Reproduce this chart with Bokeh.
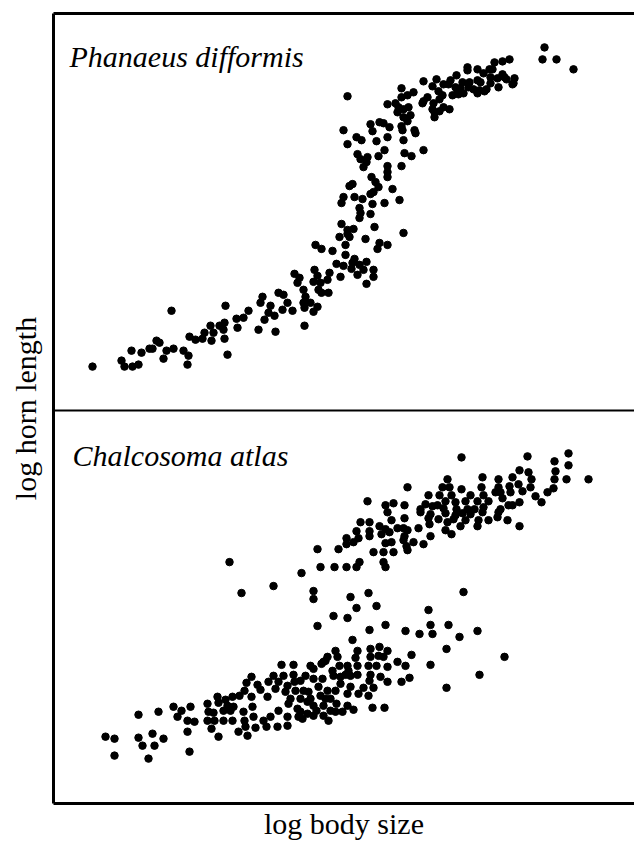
from bokeh.plotting import figure
from bokeh.models import Range1d, LinearAxis, Label, Span, FixedTicker
from bokeh.embed import file_html
from bokeh.resources import INLINE

# ---- data (arbitrary log units) ----
# Phanaeus difformis: log body size, log horn length
phanaeus_size = [39, 68, 71, 79, 85, 78, 88, 96, 103, 106, 99, 110, 113, 120, 118, 130, 135, 134, 136, 142,
                 149, 151, 157, 158, 160, 166, 171, 170, 171, 172, 174, 183, 184, 190, 195, 205, 209, 207, 211, 215,
                 217, 221, 222, 225,
                 294, 290, 303, 308, 323, 294, 326, 317, 319, 325, 304, 307, 314, 310, 313, 318, 322, 299, 296, 325,
                 320, 317, 339, 290, 288, 301, 309, 331, 346, 319, 306, 307, 306, 317, 288, 294, 300, 294, 296, 321,
                 350, 286, 312, 292, 326, 324, 334, 262, 268, 279, 292, 301, 299, 306, 298, 313, 283, 290, 310, 320,
                 304, 320, 287, 313, 241, 246, 244, 261, 264, 260, 267, 265, 276, 274, 275, 268, 250, 252, 250, 251,
                 230, 234, 229, 257, 264, 260, 251, 239,
                 491, 489, 503, 520, 456, 449, 441, 436, 439, 414, 414, 424, 430, 403, 449, 451, 453, 461, 460, 437,
                 444, 383, 370, 397, 395, 409, 416, 424, 427, 437, 445, 459, 390, 379, 402, 407, 404, 410, 415, 420,
                 426, 431, 424, 433, 399, 405, 348, 360, 354, 348, 374, 370, 369, 385, 389, 386, 380, 379, 381, 390,
                 396, 386, 381, 334, 342, 345, 344, 350, 355, 357, 350, 354, 330, 336, 348, 349, 361, 362, 334, 350,
                 331, 351, 358, 370, 334, 334, 334, 348]
phanaeus_horn = [44, 50, 44, 44, 46, 60, 58, 62, 70, 68, 62, 52, 60, 62, 100, 60, 55, 46, 74, 71,
                 72, 78, 85, 70, 78, 85, 88, 81, 72, 105, 56, 92, 83, 93, 100, 81, 114, 108, 91, 98,
                 105, 95, 79, 118,
                 315, 281, 274, 271, 270, 267, 289, 287, 280, 255, 257, 252, 254, 244, 249, 234, 229, 227, 225, 224,
                 219, 217, 222, 214, 208, 214, 212, 208, 211, 207, 203, 198, 193, 197, 187, 181, 182, 177, 174, 184,
                 178, 174, 172, 166, 168, 162, 166, 166, 162, 160, 156, 152, 148, 146, 142, 149, 147, 145, 141, 141,
                 136, 134, 134, 127, 137, 133, 128, 141, 135, 129, 128, 121, 138, 131, 118, 118, 121, 114, 108, 103,
                 116, 108, 101, 108, 104, 99, 85, 100,
                 364, 352, 352, 342, 352, 350, 349, 342, 342, 344, 341, 342, 338, 336, 337, 334, 332, 333, 328, 334,
                 333, 332, 330, 331, 327, 329, 329, 331, 329, 328, 324, 327, 327, 325, 324, 323, 319, 318, 324, 322,
                 321, 320, 318, 322, 316, 317, 323, 319, 316, 314, 314, 310, 308, 320, 316, 312, 308, 302, 299, 304,
                 302, 300, 294, 307, 308, 304, 299, 302, 304, 296, 294, 290, 288, 284, 285, 281, 281, 278, 274, 271,
                 261, 258, 255, 261, 245, 239, 234, 245]

# Chalcosoma atlas: log body size, log horn length
chalcosoma_size = [52, 61, 61, 85, 85, 89, 99, 101, 110, 95, 105, 120, 128, 124, 137, 134, 141, 134, 136, 154,
                   155, 154, 158, 160, 161, 164, 165, 165, 170, 172, 174, 170, 177, 179, 180, 179, 185, 186, 191, 193,
                   198, 190, 191, 192, 194, 198, 199, 200, 202, 204, 207, 210, 213, 214, 215, 217, 220, 222, 225, 224,
                   225, 228, 230, 234, 232, 235, 234, 234, 240, 240, 241, 242, 244, 245,
                   248, 267, 281, 293, 303, 306, 330, 332, 260, 260, 297, 315, 303, 323, 280, 294, 264, 316, 332, 299,
                   410, 375, 377, 379, 395, 352, 366, 424, 406, 393, 451, 358, 344, 352, 377, 426, 393, 356, 348, 334,
                   326, 334, 317, 325, 330, 317, 304, 302, 282, 284, 274, 270, 334, 315, 323, 304, 294, 286, 327, 317,
                   316, 304, 297, 292, 287, 279, 280, 320, 310, 305, 315, 297, 294, 319, 331, 300, 294, 289, 282, 257,
                   260, 252, 260, 269, 250, 255, 247, 254, 260, 247, 254, 260, 270, 277, 282, 274, 267, 277, 270,
                   247, 265, 272, 257, 283, 263, 237, 249, 275, 272, 268, 287, 295,
                   176, 188, 220, 314, 332, 340, 334, 338, 307, 316, 326, 332, 344, 303, 316, 328, 336, 316, 293, 305,
                   300, 293, 332, 338, 264, 285, 320, 330, 340,
                   408, 474, 515, 501, 515, 502, 501, 513, 535, 466, 475, 478, 459, 429, 445, 456, 465, 469, 477, 394,
                   396, 389, 408, 428, 445, 447, 354, 500, 494, 482, 488, 457, 375, 386, 398, 417, 424, 430, 435, 442,
                   449, 455, 459, 466, 392, 402, 412, 372, 379, 384, 351, 367, 367, 390, 403, 414, 421, 430, 447, 445,
                   429, 377, 392, 402, 409, 417, 351, 375, 385, 394, 400, 412, 425, 435, 444, 454, 376, 407, 424, 466,
                   350, 354, 365, 392, 398, 377, 351, 350, 353, 354, 360, 370]
chalcosoma_horn = [67, 65, 48, 89, 66, 58, 70, 58, 65, 45, 92, 97, 93, 87, 97, 83, 82, 72, 52, 100,
                   92, 83, 75, 91, 83, 107, 101, 67, 93, 104, 98, 83, 93, 107, 97, 83, 72, 108, 113, 121,
                   127, 92, 83, 77, 68, 107, 97, 87, 76, 119, 114, 83, 77, 107, 122, 87, 128, 115, 122, 77,
                   93, 139, 128, 118, 112, 100, 87, 78, 139, 129, 122, 113, 95, 87,
                   231, 237, 237, 237, 237, 242, 242, 237, 213, 205, 207, 211, 196, 198, 188, 186, 178, 174, 179, 164,
                   212, 194, 179, 170, 179, 173, 170, 173, 167, 155, 147, 149, 142, 138, 139, 129, 116, 126, 122, 122,
                   157, 153, 155, 148, 147, 147, 153, 146, 153, 147, 147, 142, 137, 138, 138, 138, 138, 138, 127, 129,
                   123, 129, 128, 129, 127, 133, 128, 116, 116, 110, 108, 117, 110, 96, 96, 94, 98, 92, 92, 138,
                   135, 128, 125, 125, 113, 112, 105, 102, 98, 92, 90, 88, 98, 105, 113, 113, 108, 93, 88,
                   123, 117, 105, 105, 100, 93, 105, 85, 83, 143, 140, 120, 133,
                   242, 211, 218, 303, 299, 301, 292, 284, 282, 282, 278, 275, 276, 273, 273, 270, 272, 268, 266, 266,
                   262, 260, 261, 262, 255, 255, 252, 252, 252,
                   347, 348, 351, 343, 339, 333, 325, 325, 325, 334, 332, 325, 327, 327, 325, 318, 320, 313, 317, 325,
                   317, 317, 315, 317, 317, 312, 317, 316, 312, 308, 302, 312, 309, 309, 309, 309, 303, 309, 303, 312,
                   306, 299, 299, 302, 303, 302, 303, 300, 298, 299, 299, 295, 292, 296, 295, 295, 295, 297, 295, 292,
                   292, 290, 291, 289, 291, 290, 286, 286, 285, 282, 285, 284, 284, 284, 287, 284, 280, 278, 278, 278,
                   276, 274, 276, 274, 270, 268, 268, 264, 258, 254, 262, 260]

species = ["Phanaeus difformis", "Chalcosoma atlas"]
x_title = "log body size"
y_title = "log horn length"

SERIF = "Liberation Serif"

p = figure(width=634, height=842, output_backend="svg", toolbar_location=None,
           x_range=Range1d(0, 581), y_range=Range1d(0, 792),
           x_axis_type=None, y_axis_type=None,
           min_border_left=53, min_border_right=0, min_border_top=13, min_border_bottom=37)
p.extra_y_ranges = {"upper": Range1d(-394, 398)}
p.grid.visible = False
p.outline_line_color = None
p.background_fill_color = "white"
p.border_fill_color = "white"


def frame_axis(loc, width, label=None, standoff=0):
    ax = LinearAxis(ticker=FixedTicker(ticks=[]), axis_line_width=width, axis_line_color="black",
                    major_tick_out=0, major_tick_in=0, minor_tick_out=0, minor_tick_in=0,
                    major_label_text_font_size="0px", major_label_standoff=0)
    if label:
        ax.axis_label = label
        ax.axis_label_text_font = SERIF
        ax.axis_label_text_font_size = "30px"
        ax.axis_label_text_font_style = "normal"
        ax.axis_label_text_color = "black"
        ax.axis_label_standoff = standoff
    p.add_layout(ax, loc)


frame_axis("left", 3, y_title, 12)
frame_axis("below", 3, x_title, 3)
frame_axis("above", 3)

p.add_layout(Span(location=394, dimension="width", line_color="black", line_width=2))

p.scatter(phanaeus_size, phanaeus_horn, y_range_name="upper", size=7.5, color="black",
          line_color="black", marker="circle")
p.scatter(chalcosoma_size, chalcosoma_horn, size=7.5, color="black",
          line_color="black", marker="circle")

p.add_layout(Label(x=16, y=749, text=species[0], text_font=SERIF, text_font_style="italic",
                   text_font_size="30px", text_color="black", text_baseline="alphabetic"))
p.add_layout(Label(x=19, y=349, text=species[1], text_font=SERIF, text_font_style="italic",
                   text_font_size="30px", text_color="black", text_baseline="alphabetic"))

open("out.html", "w").write(file_html(p, INLINE))
